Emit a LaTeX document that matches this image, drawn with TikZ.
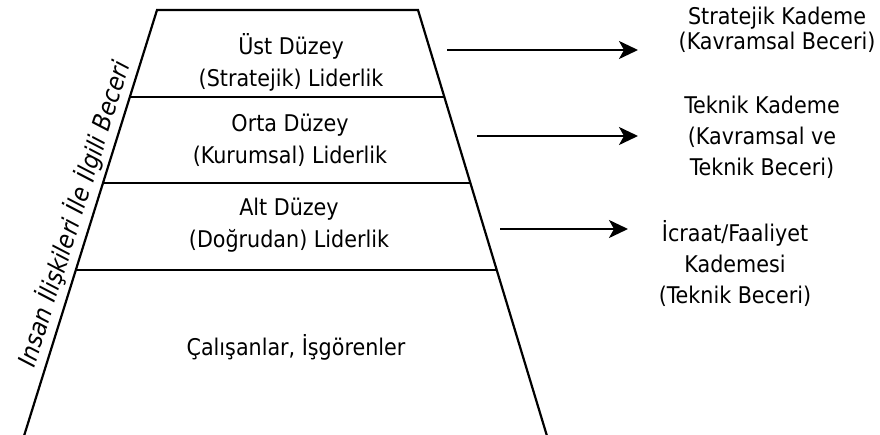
\documentclass[tikz,border=0pt]{standalone}
\usepackage{fontspec}
\setmainfont{DejaVu Sans Condensed}
\usetikzlibrary{arrows.meta,calc}
\begin{document}
\begin{tikzpicture}[x=1pt,y=-1pt,
  edge/.style={line width=2.2pt,line cap=round},
  levelline/.style={line width=2.2pt},
  lvl/.style={align=center,font=\fontsize{23}{32}\selectfont,inner sep=0pt},
  tier/.style={align=center,font=\fontsize{23}{31}\selectfont,inner sep=0pt},
  pointer/.style={line width=2.2pt,-{Stealth[length=19pt,width=18pt,inset=5pt]}}]
\useasboundingbox (0,0) rectangle (880,434);
% pyramid outline
\coordinate (TL) at (157,10);
\coordinate (TR) at (418,10);
\coordinate (BR) at (547,436);
\coordinate (BL) at (24,436);
\draw[edge] (BL) -- (TL) -- (TR) -- (BR);
% level separators
\foreach \t/\n in {0.204/a,0.406/b,0.61/c}{
  \coordinate (L\n) at ($(TL)!\t!(BL)$);
  \coordinate (R\n) at ($(TR)!\t!(BR)$);
  \draw[levelline] (L\n) -- (R\n);
}
% level labels
\node[lvl] (top) at (291,62) {Üst Düzey\\(Stratejik) Liderlik};
\node[lvl] (mid) at (290,140) {Orta Düzey\\(Kurumsal) Liderlik};
\node[lvl] (low) at (289,225) {Alt Düzey\\(Doğrudan) Liderlik};
\node[lvl] (base) at (296,347) {Çalışanlar, İşgörenler};
% side label along the left edge
\node[lvl,font=\fontsize{25}{28}\selectfont\itshape,rotate=72.5] (side) at (74,214)
  {Insan İlişkileri İle İlgili Beceri};
% tier descriptions
\node[tier,font=\fontsize{23}{25}\selectfont] (t1) at (777,30) {Stratejik Kademe\\(Kavramsal Beceri)};
\node[tier] (t2) at (762,137) {Teknik Kademe\\(Kavramsal ve\\Teknik Beceri)};
\node[tier] (t3) at (735,263) {İcraat/Faaliyet\\Kademesi\\(Teknik Beceri)};
% arrows
\coordinate (s1) at (447,50);  \coordinate (e1) at (638,50);
\coordinate (s2) at (477,136); \coordinate (e2) at (638,136);
\coordinate (s3) at (500,229); \coordinate (e3) at (628,229);
\draw[pointer] (s1) -- (e1);
\draw[pointer] (s2) -- (e2);
\draw[pointer] (s3) -- (e3);
\end{tikzpicture}
\end{document}
